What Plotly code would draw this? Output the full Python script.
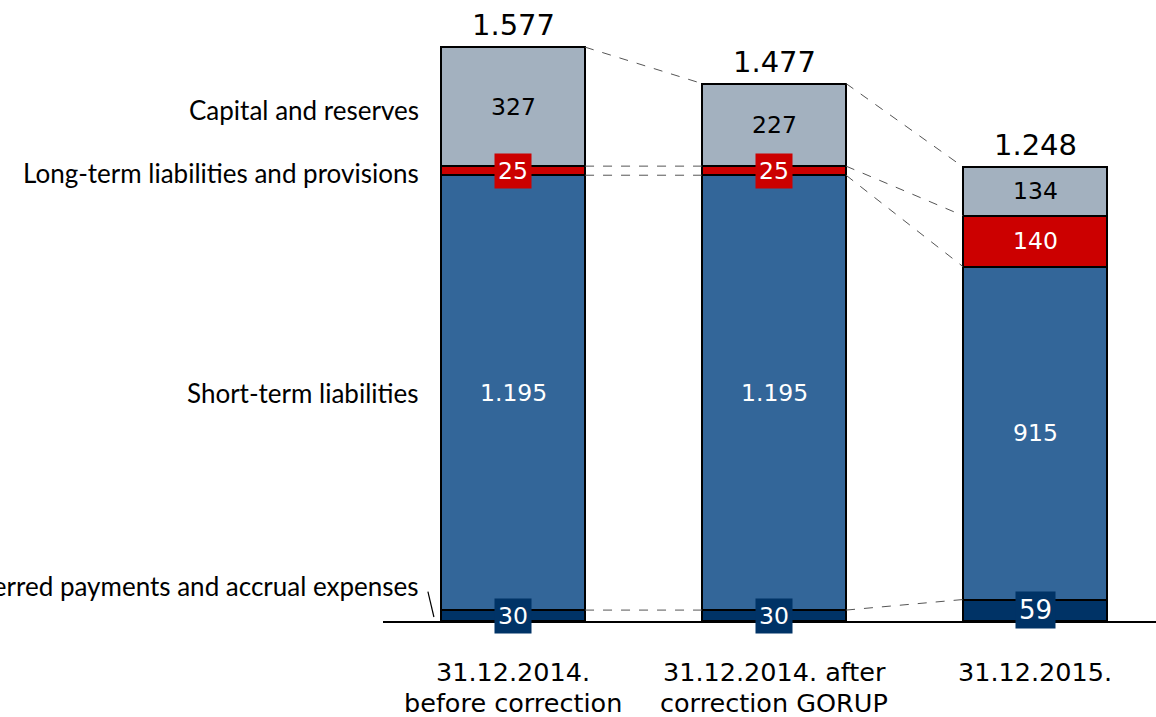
import plotly.graph_objects as go

categories = ["31.12.2014.<br>before correction", "31.12.2014. after<br>correction GORUP", "31.12.2015."]
series_names = ["Deferred payments and accrual expenses", "Short-term liabilities",
                "Long-term liabilities and provisions", "Capital and reserves"]
deferred = [30, 30, 59]
short_term = [1195, 1195, 915]
long_term = [25, 25, 140]
capital = [327, 227, 134]

series = [deferred, short_term, long_term, capital]
colors = ["#003366", "#336699", "#CC0000", "#A3B1BF"]
label_colors = ["white", "white", "white", "black"]

def fmt(v):
    return f"{v:,}".replace(",", ".")

xs = list(range(len(categories)))
bw = 0.552
totals = [sum(s[i] for s in series) for i in xs]

fig = go.Figure()

# connector dashed lines
cum = []
for i in xs:
    c, acc = [], 0
    for s in series:
        acc += s[i]
        c.append(acc)
    cum.append(c)
for i in xs[:-1]:
    for k in range(len(series)):
        fig.add_trace(go.Scatter(x=[i + bw / 2, i + 1 - bw / 2], y=[cum[i][k], cum[i + 1][k]],
                                 mode="lines", line=dict(color="#555555", width=1, dash="dash"),
                                 hoverinfo="skip", showlegend=False))

for s, name, col in zip(series, series_names, colors):
    fig.add_trace(go.Bar(x=xs, y=s, name=name, width=bw, marker=dict(color=col, line=dict(color="black", width=2)),
                         showlegend=False))

ann = []
FONT = "DejaVu Sans"
for i in xs:
    base = 0
    for k, s in enumerate(series):
        v = s[i]
        mid = base + v / 2
        base += v
        boxed = (k == 0) or (k == 2 and v < 60)
        size = 23.5
        if k == 0 and v > 40:
            size = 26
        ann.append(dict(x=i, y=mid, xref="x", yref="y", text=fmt(v), showarrow=False,
                        font=dict(family=FONT, size=size, color=label_colors[k]),
                        bgcolor=colors[k] if boxed else None, borderpad=3 if boxed else 0))
    ann.append(dict(x=i, y=totals[i], xref="x", yref="y", text=fmt(totals[i]), showarrow=False,
                    yanchor="bottom", yshift=3, font=dict(family=FONT, size=29, color="black")))
    for j, line in enumerate(categories[i].split("<br>")):
        ann.append(dict(x=i, y=0, xref="x", yref="paper", text=line, showarrow=False,
                        yanchor="middle", yshift=-51 - 31 * j, font=dict(family=FONT, size=25.5, color="black")))

# series labels at left of first bar
base = 0
shifts = [30, 0, -2, -3]
for k, s in enumerate(series):
    mid = base + s[0] / 2
    base += s[0]
    ann.append(dict(x=-bw / 2, y=mid, xref="x", yref="y", text=series_names[k], showarrow=False,
                    xanchor="right", xshift=-20, yshift=shifts[k],
                    font=dict(family="Lato", size=26, color="black")))

fig.add_shape(type="line", xref="x", yref="y", x0=-bw / 2 - 0.05, x1=-bw / 2 - 0.027,
              y0=deferred[0] / 2 + 66, y1=deferred[0] / 2 - 4, line=dict(color="black", width=1.2))

fig.update_layout(
    barmode="stack", width=1156, height=717, margin=dict(l=383, r=0, t=0, b=96),
    paper_bgcolor="white", plot_bgcolor="white", annotations=ann, hovermode=False,
    xaxis=dict(range=[-130 / 261, -130 / 261 + 773 / 261], showticklabels=False, showgrid=False,
               zeroline=False, showline=True, linecolor="black", linewidth=2, ticks=""),
    yaxis=dict(range=[0, 621 / 0.3639], visible=False, showgrid=False, zeroline=False),
)
fig.write_html("out.html", config={"displayModeBar": False, "staticPlot": True},
               post_script="document.body.style.margin='0';document.body.style.overflow='hidden';")
